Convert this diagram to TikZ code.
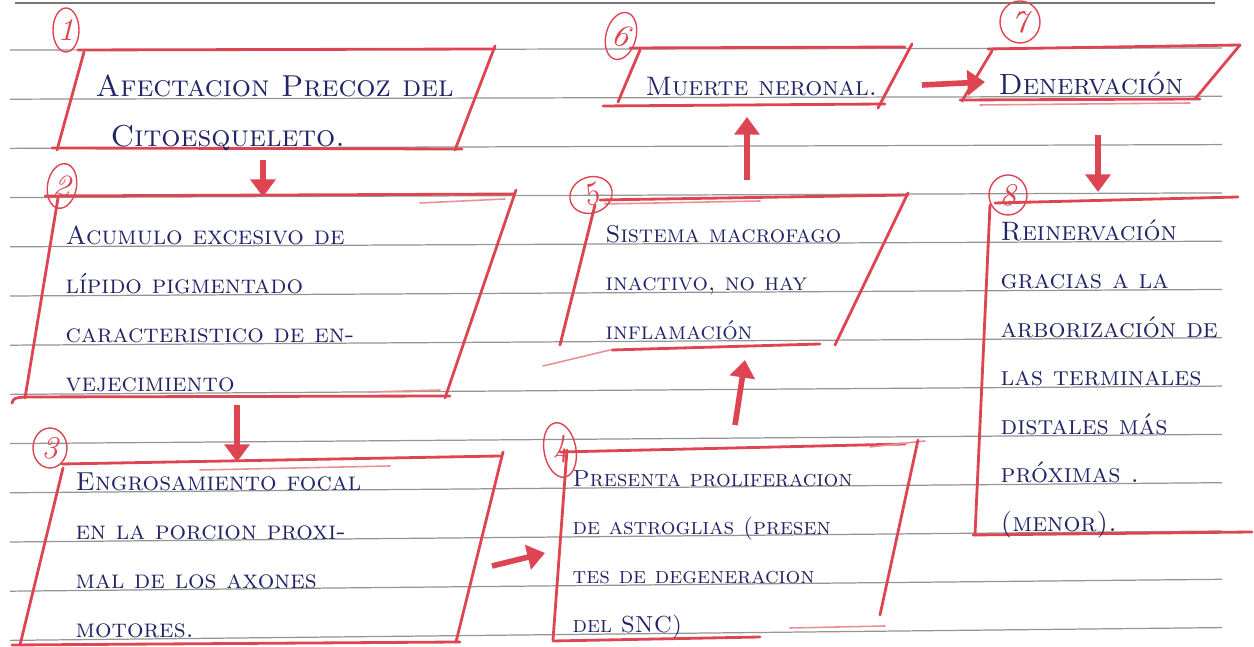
\documentclass[tikz,border=0pt]{standalone}
\usepackage{tikz}
\usetikzlibrary{arrows.meta}
\usetikzlibrary{shapes}
\usetikzlibrary{calc}
\usetikzlibrary{positioning}
\definecolor{redpen}{rgb}{0.87,0.27,0.32}
\definecolor{ink}{rgb}{0.13,0.14,0.40}
\definecolor{ruling}{rgb}{0.58,0.58,0.58}

\tikzset{
  rule/.style={ruling, line width=0.35pt},
  pen/.style={redpen, line width=0.8pt, line cap=round, line join=round},
  thinpen/.style={redpen!60, line width=0.45pt, line cap=round},
  num/.style={draw=redpen, ellipse, line width=0.4pt, inner sep=0pt,
    text=redpen, font=\small\itshape},
  txt/.style={anchor=base west, text=ink, inner sep=0pt,
    font=\fontsize{#1}{12}\selectfont\scshape},
  redarrow/.style={redpen, line width=1.6pt, -{Triangle[length=5pt,width=7pt]}},
  % baseline of ruled line k at horizontal position x
  declare function={ly(\x,\k)=50+49.2*(\k-1)-(2+0.9*(\k-1))*\x/1225-2;}
}

\begin{document}
\begin{tikzpicture}[x=0.1mm, y=-0.1mm]
  \useasboundingbox (0,0) rectangle (1254,647);
  % ruled paper
  \draw[ruling!80!black, line width=0.5pt] (15,3) -- (1215,3);
  \foreach \k in {1, 2, ..., 13} {
    \draw[rule] (10, {50+49.2*(\k-1)}) -- (1222, {48+48.3*(\k-1)});
  }

  % box 1
  \draw[pen] (78,50) -- (495,49);
  \draw[pen] (495,46) -- (455,150);
  \draw[pen] (52,148) -- (462,149);
  \draw[pen] (84,52) -- (57,150);
  \node[txt=8.6] (box1-0) at (95, {ly(95,2)}) {Afectacion Precoz del};
  \node[txt=8.6] (box1-1) at (110, {ly(110,3)}) {Citoesqueleto.};
  \node[num, minimum width=2.6mm, minimum height=4.4mm] (n1) at (66,30) {1};

  % box 2
  \draw[pen] (45,196) -- (515,194);
  \draw[thinpen] (420,203) -- (505,199);
  \draw[pen] (516,190) -- (445,398);
  \draw[pen] (58,198) -- (25,398);
  \draw[pen] (12,403) .. controls (14,398) .. (25,397) -- (450,396);
  \draw[thinpen] (370,392) -- (440,390);
  \foreach \t [count=\k from 5] in {Acumulo excesivo de, lípido pigmentado,
      caracteristico de en-, vejecimiento} {
    \node[txt=7.4] (box2-\k) at (65, {ly(65,\k)}) {\t};
  }
  \node[num, minimum width=2.9mm, minimum height=4.5mm, rotate=-10] (n2) at (62,186) {2};

  % box 3
  \draw[pen] (62,464) -- (500,456);
  \draw[thinpen] (200,470) -- (390,466);
  \draw[pen] (503,452) -- (456,642);
  \draw[pen] (12,645) -- (460,642);
  \draw[pen] (63,468) -- (20,645);
  \foreach \t [count=\k from 10] in {Engrosamiento focal, en la porcion proxi-,
      mal de los axones, motores.} {
    \node[txt=7.4] (box3-\k) at (75, {ly(75,\k)}) {\t};
  }
  \node[num, minimum width=3.4mm, minimum height=4mm] (n3) at (50,448) {3};

  % box 4
  \draw[pen] (560,452) -- (905,444);
  \draw[thinpen] (870,447) -- (925,441);
  \draw[pen] (567,450) -- (553,640);
  \draw[pen] (918,440) -- (880,615);
  \draw[pen] (553,641) -- (760,637);
  \draw[thinpen] (790,628) -- (885,626);
  \foreach \t [count=\k from 10] in {Presenta proliferacion, de astroglias (presen,
      tes de degeneracion, del SNC)} {
    \node[txt=6.6] (box4-\k) at (572, {ly(572,\k)}) {\t};
  }
  \node[num, minimum width=3.2mm, minimum height=5.5mm, rotate=10] (n4) at (560,450) {4};

  % box 5
  \draw[pen] (600,200) -- (908,195);
  \draw[thinpen] (605,204) -- (760,201);
  \draw[pen] (908,193) -- (835,345);
  \draw[pen] (595,205) -- (560,345);
  \draw[pen] (612,350) -- (820,344);
  \draw[thinpen] (543,366) -- (610,350);
  \foreach \t [count=\k from 5] in {Sistema macrofago, {inactivo, no hay},
      inflamación} {
    \node[txt=6.9] (box5-\k) at (605, {ly(605,\k)}) {\t};
  }
  \node[num, minimum width=4.3mm, minimum height=3.6mm, rotate=20] (n5) at (591,195) {5};

  % box 6
  \draw[pen] (630,48) -- (905,47);
  \draw[pen] (912,44) -- (878,108);
  \draw[pen] (640,50) -- (618,102);
  \draw[pen] (603,106) -- (885,104);
  \node[txt=7.6] (box6) at (645, {ly(645,2)}) {Muerte neronal.};
  \node[num, minimum width=3mm, minimum height=4.8mm, rotate=-15] (n6) at (621,36) {6};

  % box 7
  \draw[pen] (988,49) -- (1240,45);
  \draw[pen] (1240,45) -- (1195,99);
  \draw[pen] (992,51) -- (962,101);
  \draw[pen] (960,100) -- (1200,99);
  \draw[thinpen] (980,105) -- (1190,103);
  \node[txt=8.3] (box7) at (998, {ly(998,2)}) {Denervación};
  \node[num, minimum width=4mm, minimum height=4.2mm] (n7) at (1020,22) {7};

  % box 8
  \draw[pen] (995,203) -- (1238,197);
  \draw[pen] (990,205) -- (975,535);
  \draw[pen] (973,535) -- (1252,532);
  \foreach \t [count=\k from 5] in {Reinervación, gracias a la, arborización de,
      las terminales, distales más, próximas ., (menor).} {
    \node[txt=7.6] (box8-\k) at (1000, {ly(1000,\k)}) {\t};
  }
  \node[num, minimum width=3.8mm, minimum height=4mm] (n8) at (1008,195) {8};

  % arrows
  \coordinate (t12) at (263,160); \coordinate (h12) at (263,197);
  \coordinate (t23) at (237,405); \coordinate (h23) at (237,462);
  \coordinate (t34) at (492,566); \coordinate (h34) at (545,553);
  \coordinate (t45) at (735,425); \coordinate (h45) at (745,360);
  \coordinate (t56) at (747,180); \coordinate (h56) at (747,117);
  \coordinate (t67) at (922,85);  \coordinate (h67) at (985,82);
  \coordinate (t78) at (1098,135); \coordinate (h78) at (1098,192);
  \foreach \a in {12, 23, 34, 45, 56, 67, 78} {
    \draw[redarrow] (t\a) -- (h\a);
  }
\end{tikzpicture}
\end{document}
